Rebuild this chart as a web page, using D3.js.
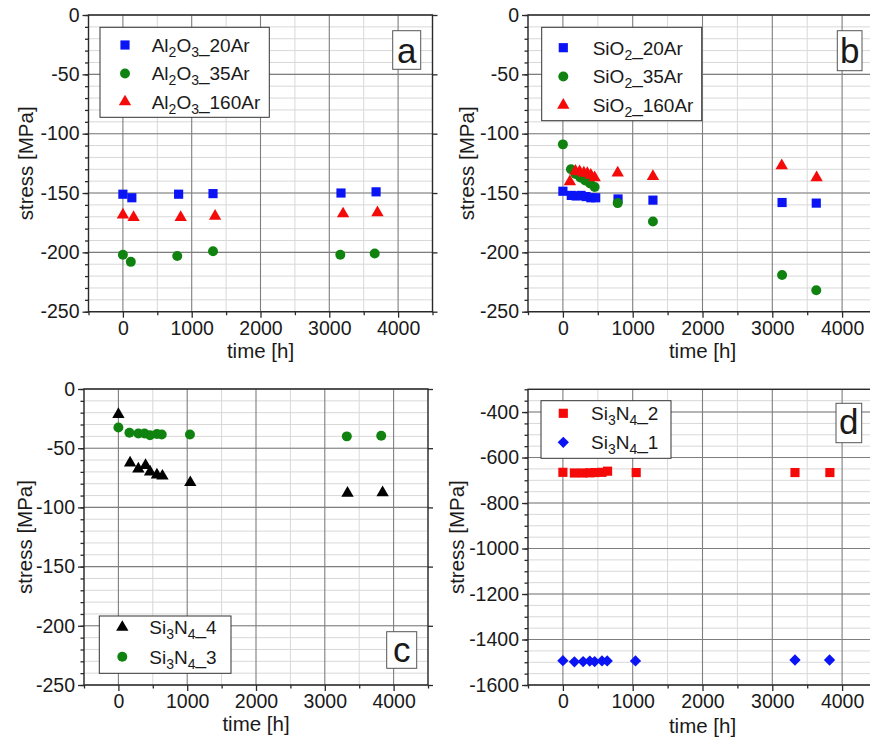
<!DOCTYPE html>
<html>
<head>
<meta charset="utf-8">
<script src="https://cdn.jsdelivr.net/npm/d3@7"></script>
<style>
  body { margin: 0; background: #fff; }
  svg { display: block; }
  text { font-family: "Liberation Sans", Arial, sans-serif; fill: #1a1a1a; }
</style>
</head>
<body>
<svg id="chart" width="870" height="738"></svg>
<script>
// ---- shared axis values ----
const timeDomain = [-500, 4500];
const timeTicks = [0, 1000, 2000, 3000, 4000];
const stressTicksSmall = [0, -50, -100, -150, -200, -250];
const stressTicksLarge = [-400, -600, -800, -1000, -1200, -1400, -1600];

// ---- panel a: Al2O3 ----
const al20Time = [0, 130, 810, 1310, 3170, 3680];
const al20Stress = [-151, -154, -151, -150.5, -150, -149];
const al35Time = [0, 115, 790, 1310, 3160, 3660];
const al35Stress = [-202, -208, -203, -199, -202, -201];
const al160Time = [0, 155, 840, 1340, 3200, 3700];
const al160Stress = [-168.5, -170.5, -170.5, -169.5, -167.5, -166.5];

// ---- panel b: SiO2 ----
const si20Time = [0, 120, 190, 260, 330, 400, 470, 790, 1290, 3140, 3630];
const si20Stress = [-148.5, -152, -152.5, -152, -153, -154, -154, -155, -156, -158, -158.5];
const si35Time = [0, 115, 180, 250, 320, 390, 455, 785, 1290, 3140, 3630];
const si35Stress = [-109, -130, -134, -137, -139.5, -142, -145, -158.5, -174, -219, -232];
const si160Time = [100, 180, 240, 300, 350, 400, 455, 785, 1290, 3135, 3635];
const si160Stress = [-140.5, -131.5, -132, -133, -133.5, -135, -137, -133, -136, -127, -137];

// ---- panel c: Si3N4 samples 4 and 3 ----
const sn4Time = [0, 170, 290, 395, 460, 560, 640, 1045, 3330, 3840];
const sn4Stress = [-21.5, -62.5, -67.5, -64.5, -70, -72.5, -73.5, -79, -88, -87.5];
const sn3Time = [0, 160, 290, 380, 460, 560, 630, 1040, 3320, 3820];
const sn3Stress = [-32.5, -37, -37.5, -37.5, -39, -38, -38.5, -38.5, -40, -39.5];

// ---- panel d: Si3N4 samples 2 and 1 ----
const sn2Time = [0, 165, 290, 385, 460, 560, 640, 1050, 3325, 3825];
const sn2Stress = [-665, -668, -668, -667, -666, -665, -660, -666, -666, -666];
const sn1Time = [0, 165, 290, 385, 455, 560, 635, 1040, 3325, 3820];
const sn1Stress = [-1493, -1498, -1497, -1495, -1497, -1494, -1494, -1494, -1490, -1490];

// legend labels as [text, isSubscript] runs
const labelAl20 = [["Al", 0], ["2", 1], ["O", 0], ["3", 1], ["_20Ar", 0]];
const labelAl35 = [["Al", 0], ["2", 1], ["O", 0], ["3", 1], ["_35Ar", 0]];
const labelAl160 = [["Al", 0], ["2", 1], ["O", 0], ["3", 1], ["_160Ar", 0]];
const labelSi20 = [["SiO", 0], ["2", 1], ["_20Ar", 0]];
const labelSi35 = [["SiO", 0], ["2", 1], ["_35Ar", 0]];
const labelSi160 = [["SiO", 0], ["2", 1], ["_160Ar", 0]];
const labelSn4 = [["Si", 0], ["3", 1], ["N", 0], ["4", 1], ["_4", 0]];
const labelSn3 = [["Si", 0], ["3", 1], ["N", 0], ["4", 1], ["_3", 0]];
const labelSn2 = [["Si", 0], ["3", 1], ["N", 0], ["4", 1], ["_2", 0]];
const labelSn1 = [["Si", 0], ["3", 1], ["N", 0], ["4", 1], ["_1", 0]];

const BLUE = "#0a14f5", GREEN = "#10820f", RED = "#f50a0a", BLACK = "#000";

const svg = d3.select("#chart");
svg.append("rect").attr("width", 870).attr("height", 738).attr("fill", "#fff");

function markerPath(kind) {
  if (kind === "square") return d3.symbol(d3.symbolSquare, 84)();
  if (kind === "circle") return d3.symbol(d3.symbolCircle, 78)();
  if (kind === "triangle") return d3.symbol(d3.symbolTriangle, 66)();
  if (kind === "diamond") return d3.symbol(d3.symbolSquare, 64)();
}
function markerRotate(kind) { return kind === "diamond" ? " rotate(45)" : ""; }

function writeLabel(sel, runs) {
  let sub = false;
  runs.forEach(([t, isSub]) => {
    const ts = sel.append("tspan").text(t);
    if (isSub && !sub) { ts.attr("dy", 5).attr("font-size", 14); sub = true; }
    else if (isSub) { ts.attr("font-size", 14); }
    else if (!isSub && sub) { ts.attr("dy", -5); sub = false; }
  });
}

function drawPanel(p) {
  const x = d3.scaleLinear().domain(timeDomain).range([p.left, p.right]);
  const y = d3.scaleLinear().domain(p.yDomain).range([p.bottom, p.top]);
  const g = svg.append("g");

  // minor grid
  const xMinor = d3.range(timeDomain[0], timeDomain[1] + 1, 500).filter(v => v % 1000 !== 0);
  const yMinor = d3.range(p.yDomain[0], p.yDomain[1] + 0.001, p.yMinor);
  g.selectAll(".gxm").data(xMinor).join("line")
    .attr("x1", d => x(d)).attr("x2", d => x(d)).attr("y1", p.top).attr("y2", p.bottom)
    .attr("stroke", "#d8d8d8").attr("stroke-width", 1);
  g.selectAll(".gym").data(yMinor).join("line")
    .attr("x1", p.left).attr("x2", p.right).attr("y1", d => y(d)).attr("y2", d => y(d))
    .attr("stroke", "#d8d8d8").attr("stroke-width", 1);
  // major grid
  g.selectAll(".gx").data(timeTicks).join("line")
    .attr("x1", d => x(d)).attr("x2", d => x(d)).attr("y1", p.top).attr("y2", p.bottom)
    .attr("stroke", "#7e7e7e").attr("stroke-width", 1.1);
  g.selectAll(".gy").data(p.yTicks).join("line")
    .attr("x1", p.left).attr("x2", p.right).attr("y1", d => y(d)).attr("y2", d => y(d))
    .attr("stroke", "#7e7e7e").attr("stroke-width", 1.1);

  // frame
  g.append("rect").attr("x", p.left).attr("y", p.top)
    .attr("width", p.right - p.left).attr("height", p.bottom - p.top)
    .attr("fill", "none").attr("stroke", "#2a2a2a").attr("stroke-width", 1.4);

  // axes
  const xAxis = d3.axisBottom(x).tickValues(timeTicks).tickSize(6).tickPadding(3).tickFormat(d3.format("d"));
  const xMinorAxis = d3.axisBottom(x).tickValues(xMinor).tickSize(3.5).tickFormat("");
  const yAxis = d3.axisLeft(y).tickValues(p.yTicks).tickSize(6).tickPadding(3).tickFormat(d => d3.format("d")(d).replace("−", "-"));
  const yMinorAxis = d3.axisLeft(y).tickValues(yMinor).tickSize(3.5).tickFormat("");
  const yRight = d3.axisRight(y).tickValues(p.yTicks).tickSize(5).tickFormat("");

  [[xMinorAxis, `translate(0,${p.bottom})`], [xAxis, `translate(0,${p.bottom})`],
   [yMinorAxis, `translate(${p.left},0)`], [yAxis, `translate(${p.left},0)`],
   [yRight, `translate(${p.right},0)`]].forEach(([ax, tr]) => {
    const a = g.append("g").attr("transform", tr).call(ax);
    a.select(".domain").remove();
    a.selectAll("line").attr("stroke", "#2a2a2a").attr("stroke-width", 1.3);
    a.selectAll("text").attr("font-size", 19.5).attr("fill", "#1a1a1a")
      .attr("font-family", '"Liberation Sans", Arial, sans-serif');
  });

  // axis titles
  g.append("text").attr("x", (p.left + p.right) / 2).attr("y", p.xTitleY)
    .attr("text-anchor", "middle").attr("font-size", 20.5).text("time [h]");
  g.append("text").attr("transform", `translate(${p.yTitleX},${(p.top + p.bottom) / 2}) rotate(-90)`)
    .attr("text-anchor", "middle").attr("font-size", 20.5).text("stress [MPa]");

  // data marks
  p.series.forEach(s => {
    g.append("g").selectAll("path").data(d3.zip(s.t, s.v)).join("path")
      .attr("d", markerPath(s.kind))
      .attr("transform", d => `translate(${x(d[0])},${y(d[1])})${markerRotate(s.kind)}`)
      .attr("fill", s.color);
  });

  // legend
  const L = p.legend;
  g.append("rect").attr("x", L.x).attr("y", L.y).attr("width", L.w).attr("height", L.h)
    .attr("fill", "#fff").attr("stroke", "#333").attr("stroke-width", 1);
  p.series.forEach((s, i) => {
    const ry = L.row0 + L.step * L.order[i];
    g.append("path").attr("d", markerPath(s.kind))
      .attr("transform", `translate(${L.symX},${ry})${markerRotate(s.kind)}`)
      .attr("fill", s.color);
    const t = g.append("text").attr("x", L.textX).attr("y", ry + 7).attr("font-size", 19);
    writeLabel(t, s.label);
  });

  // panel letter
  const P = p.letter;
  g.append("rect").attr("x", P.x).attr("y", P.y).attr("width", P.w).attr("height", P.h)
    .attr("fill", "#fff").attr("stroke", "#555").attr("stroke-width", 1);
  g.append("text").attr("x", P.x + P.w / 2).attr("y", P.base).attr("text-anchor", "middle")
    .attr("font-size", 35).text(P.text);
}

drawPanel({
  left: 88.5, right: 432.5, top: 15, bottom: 311.7,
  yDomain: [-250, 0], yTicks: stressTicksSmall, yMinor: 10,
  xTitleY: 358, yTitleX: 33,
  series: [
    { t: al20Time, v: al20Stress, kind: "square", color: BLUE, label: labelAl20 },
    { t: al35Time, v: al35Stress, kind: "circle", color: GREEN, label: labelAl35 },
    { t: al160Time, v: al160Stress, kind: "triangle", color: RED, label: labelAl160 }
  ],
  legend: { x: 100, y: 27.3, w: 169.3, h: 90, row0: 45, step: 28.4, order: [0, 1, 2], symX: 125, textX: 151.7 },
  letter: { x: 392.7, y: 30.7, w: 28, h: 38.6, base: 62.7, text: "a" }
});

drawPanel({
  left: 528, right: 877, top: 15, bottom: 311.7,
  yDomain: [-250, 0], yTicks: stressTicksSmall, yMinor: 10,
  xTitleY: 358, yTitleX: 473.5,
  series: [
    { t: si20Time, v: si20Stress, kind: "square", color: BLUE, label: labelSi20 },
    { t: si35Time, v: si35Stress, kind: "circle", color: GREEN, label: labelSi35 },
    { t: si160Time, v: si160Stress, kind: "triangle", color: RED, label: labelSi160 }
  ],
  legend: { x: 541.7, y: 27.3, w: 160, h: 93.4, row0: 47.7, step: 28.7, order: [0, 1, 2], symX: 563.3, textX: 592.7 },
  letter: { x: 837.3, y: 30.7, w: 24.7, h: 40, base: 63.3, text: "b" }
});

drawPanel({
  left: 84, right: 428, top: 389, bottom: 685,
  yDomain: [-250, 0], yTicks: stressTicksSmall, yMinor: 10,
  xTitleY: 731, yTitleX: 31.7,
  series: [
    { t: sn4Time, v: sn4Stress, kind: "triangle", color: BLACK, label: labelSn4 },
    { t: sn3Time, v: sn3Stress, kind: "circle", color: GREEN, label: labelSn3 }
  ],
  legend: { x: 99.3, y: 616, w: 131.7, h: 57.3, row0: 627.3, step: 29.4, order: [0, 1], symX: 122.3, textX: 149.3 },
  letter: { x: 386.7, y: 631.7, w: 30, h: 36.6, base: 661.7, text: "c" }
});

drawPanel({
  left: 528, right: 877, top: 389.3, bottom: 685,
  yDomain: [-1600, -300], yTicks: stressTicksLarge, yMinor: 50,
  xTitleY: 733, yTitleX: 463.5,
  series: [
    { t: sn2Time, v: sn2Stress, kind: "square", color: RED, label: labelSn2 },
    { t: sn1Time, v: sn1Stress, kind: "diamond", color: BLUE, label: labelSn1 }
  ],
  legend: { x: 541, y: 400.7, w: 130, h: 57.6, row0: 413.3, step: 29, order: [0, 1], symX: 563.3, textX: 591 },
  letter: { x: 836, y: 403.3, w: 25.7, h: 39.4, base: 434.3, text: "d" }
});
</script>
</body>
</html>
